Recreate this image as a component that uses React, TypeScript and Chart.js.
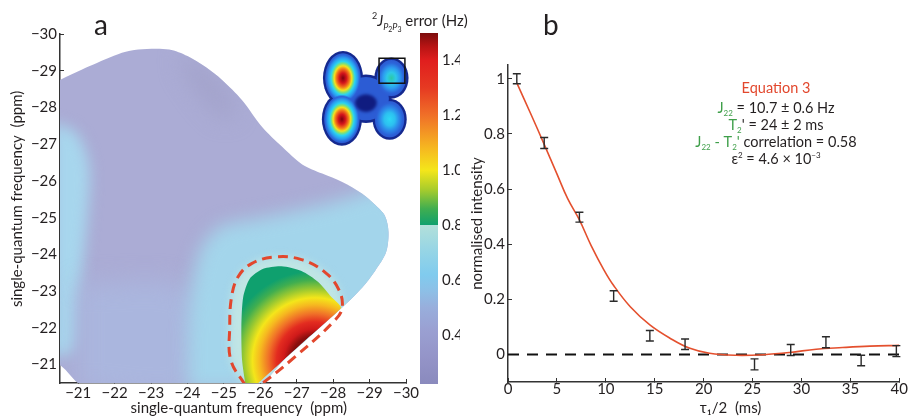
import React, { useEffect, useRef } from 'react';
import { Chart, registerables } from 'chart.js';

const FONT = "Lato, 'Open Sans', 'DejaVu Sans', sans-serif";
const INK = '#231f20';
const GREEN = '#3f9f4a';
const RED = '#e2472d';

// ===================== Panel a : axes =====================
const aXMin = -30;
const aXMax = -20.5;
const aYMin = -30;
const aYMax = -20.5;
const aXTicks = [-21, -22, -23, -24, -25, -26, -27, -28, -29, -30];
const aYTicks = [-21, -22, -23, -24, -25, -26, -27, -28, -29, -30];

// ===================== colour bar =====================
const cbMin = 0.222;
const cbMax = 1.5;
const cbTicks = [0.4, 0.6, 0.8, 1.0, 1.2, 1.4];
const cmapValues = [0.222, 0.32, 0.42, 0.5, 0.56, 0.62, 0.7, 0.7999, 0.8, 0.86, 0.93, 1.0, 1.08, 1.2, 1.3, 1.4, 1.45, 1.5];
const cmapColors = ['#8a8abd', '#9494c8', '#9aa0d2', '#98aedc', '#8dbfe6', '#80cbee', '#94d4e6', '#b2e0da', '#0fa06e', '#40ae50', '#a8cc2c', '#f4e61a', '#f6b820', '#f07028', '#e63a22', '#e01e1e', '#b81414', '#7c0c0c'];

// ===================== Panel a : error map regions (ppm, ppm) =====================
const blobX = [-20.4, -20.5, -21.3, -22.2, -22.65, -23.5, -24.0, -24.5, -24.95, -25.5, -26.05, -26.6, -27.15, -27.7, -28.25, -28.8, -29.15, -29.42, -29.52, -29.45, -29.15, -28.8, -28.35, -27.5, -26.7, -25.83, -21.2, -20.55, -20.4];
const blobY = [-28.7, -28.75, -29.12, -29.49, -29.58, -29.58, -29.4, -29.1, -28.75, -28.2, -27.47, -26.93, -26.45, -26.2, -25.97, -25.65, -25.35, -25.05, -24.6, -24.05, -23.55, -23.1, -22.65, -21.89, -21.18, -20.4, -20.4, -20.95, -21.0];
const blobColor = '#abacd5';

const ridgeX = [-23.8, -24.4, -25.0, -25.3, -25.0, -24.4, -23.9];
const ridgeY = [-29.45, -29.15, -28.5, -27.9, -27.7, -28.3, -29.0];
const ridgeColor = '#a2a2ca';

const leftX = [-20.3, -20.95, -21.3, -21.25, -21.05, -20.9, -20.3];
const leftY = [-27.6, -27.3, -26.4, -25.0, -23.0, -21.4, -21.2];
const leftColor = '#a7d6ed';

const lowerLeftX = [-21.0, -24.1, -24.1, -21.0];
const lowerLeftY = [-23.2, -23.0, -20.3, -20.3];
const lowerLeftColor = '#aab6de';

const rightX = [-24.0, -24.05, -24.35, -24.9, -25.8, -26.8, -27.7, -28.6, -29.4, -29.9, -29.9, -28.5, -25.9];
const rightY = [-20.3, -22.6, -24.1, -24.75, -24.95, -25.15, -25.35, -25.6, -25.8, -25.0, -22.9, -22.0, -20.3];
const rightColor = '#a3d5eb';

const haloColor = '#c0e5e4';

const hotX = [-25.6, -25.5, -25.48, -25.53, -25.71, -26.08, -26.58, -27.13, -27.59, -27.95, -28.21, -27.3, -26.4, -25.83];
const hotY = [-20.4, -21.12, -22.03, -22.84, -23.34, -23.61, -23.68, -23.55, -23.25, -22.84, -22.53, -21.72, -20.91, -20.4];
const hotCentre = [-27.5, -21.12];
const hotRadius = 2.45;
const hotT = [0, 0.27, 0.35, 0.43, 0.52, 0.62, 0.7, 0.8, 0.9, 1];
const hotV = [1.5, 1.49, 1.42, 1.35, 1.2, 1.08, 1.0, 0.92, 0.86, 0.8];

const contourX = [-25.58, -25.19, -25.16, -25.21, -25.39, -25.76, -26.4, -27.13, -27.77, -28.14, -28.25, -28.05, -26.95, -26.0, -25.8, -25.58];
const contourY = [-20.45, -21.12, -22.03, -22.84, -23.39, -23.75, -23.93, -23.86, -23.52, -23.07, -22.57, -22.21, -21.21, -20.45, -20.35, -20.45];

// inset (spectrum thumbnail), placed in ppm coordinates of panel a
const insetX = [-28.27, -28.24, -29.6, -29.55];
const insetY = [-28.8, -27.68, -28.8, -27.68];
const insetRX = [0.55, 0.55, 0.47, 0.47];
const insetRY = [0.74, 0.72, 0.56, 0.56];
const insetHub = [-28.9, -28.24, 0.7, 0.66];
const insetCore = [-28.9, -28.12, 0.3, 0.24];
const insetBox = [-29.26, -29.97, -29.34, -28.66];

// ===================== Panel b =====================
const bXTicks = [0, 5, 10, 15, 20, 25, 30, 35, 40];
const bYTicks = [0, 0.2, 0.4, 0.6, 0.8, 1];
const tau = [0.9, 3.7, 7.3, 10.8, 14.5, 18.1, 25.2, 28.9, 32.5, 36.1, 39.7];
const intensity = [1.0, 0.767, 0.498, 0.212, 0.068, 0.037, -0.036, 0.016, 0.044, -0.022, 0.012];
const intensityErr = [0.018, 0.02, 0.018, 0.019, 0.019, 0.019, 0.02, 0.02, 0.02, 0.019, 0.02];
const fitTau = [0.9, 2.3, 3.7, 5.0, 6.1, 7.3, 8.5, 9.8, 10.8, 12.5, 14.5, 16.6, 18.6, 20.6, 23.3, 26.1, 28.8, 31.5, 34.2, 37.0, 40.0];
const fitIntensity = [0.985, 0.875, 0.762, 0.655, 0.565, 0.488, 0.395, 0.307, 0.25, 0.173, 0.107, 0.058, 0.022, 0.004, -0.003, -0.001, 0.007, 0.019, 0.025, 0.03, 0.033];
const zeroX = [0, 40];
const zeroY = [0, 0];

// ===================== helpers =====================
const pts = (xs: number[], ys: number[]) => xs.map((x, i) => ({ x, y: ys[i] }));
const minus = (v: number) => (v < 0 ? '\u2212' + Math.abs(v) : String(v));

function hexToRgb(h: string) {
  const n = parseInt(h.slice(1), 16);
  return [(n >> 16) & 255, (n >> 8) & 255, n & 255];
}
function colorFor(v: number) {
  if (v <= cmapValues[0]) return cmapColors[0];
  for (let i = 1; i < cmapValues.length; i++) {
    if (v <= cmapValues[i]) {
      const t = (v - cmapValues[i - 1]) / (cmapValues[i] - cmapValues[i - 1]);
      const a = hexToRgb(cmapColors[i - 1]);
      const b = hexToRgb(cmapColors[i]);
      const c = a.map((av, k) => Math.round(av + (b[k] - av) * t));
      return `rgb(${c[0]},${c[1]},${c[2]})`;
    }
  }
  return cmapColors[cmapColors.length - 1];
}

// global plugin (registered first so it runs before the filler): clip + soft blur per region
const softFillPlugin: any = {
  id: 'softFill',
  beforeDatasetDraw(chart: any, args: any) {
    const ds = chart.data.datasets[args.index];
    if (ds.clipTo === undefined) return;
    const ctx = chart.ctx;
    ctx.save();
    const line = chart.getDatasetMeta(ds.clipTo).dataset;
    if (line) {
      ctx.beginPath();
      line.path(ctx);
      ctx.closePath();
      ctx.clip();
    }
    if (ds.softBlur) ctx.filter = `blur(${ds.softBlur}px)`;
  },
  afterDatasetDraw(chart: any, args: any) {
    const ds = chart.data.datasets[args.index];
    if (ds.clipTo === undefined) return;
    chart.ctx.restore();
  },
};
Chart.register(softFillPlugin);
Chart.register(...registerables);

type Run = { t: string; c: string; s: number; dy?: number; i?: boolean };
function drawRuns(ctx: CanvasRenderingContext2D, runs: Run[], x: number, y: number, align: 'center' | 'left') {
  const f = (r: Run) => `${r.i ? 'italic ' : ''}${r.s}px ${FONT}`;
  let w = 0;
  for (const r of runs) {
    ctx.font = f(r);
    w += ctx.measureText(r.t).width;
  }
  let cx = align === 'center' ? x - w / 2 : x;
  ctx.textAlign = 'left';
  ctx.textBaseline = 'alphabetic';
  for (const r of runs) {
    ctx.font = f(r);
    ctx.fillStyle = r.c;
    ctx.fillText(r.t, cx, y + (r.dy || 0));
    cx += ctx.measureText(r.t).width;
  }
}

// datasets are drawn from the highest `order` to the lowest, so order sets the stacking
const region = (xs: number[], ys: number[], color: any, order: number, extra: any = {}) => ({
  data: pts(xs, ys),
  order,
  borderWidth: 0,
  borderColor: 'rgba(0,0,0,0)',
  pointRadius: 0,
  fill: 'shape',
  backgroundColor: color,
  tension: 0.3,
  ...extra,
});

const hotGradient = (c: any) => {
  const chart = c.chart;
  if (!chart.chartArea) return cmapColors[8];
  const xs = chart.scales.x;
  const ys = chart.scales.y;
  const cx = xs.getPixelForValue(hotCentre[0]);
  const cy = ys.getPixelForValue(hotCentre[1]);
  const r = Math.abs(xs.getPixelForValue(hotCentre[0] - hotRadius) - cx);
  const g = chart.ctx.createRadialGradient(cx, cy, 0, cx, cy, r);
  hotT.forEach((t, i) => g.addColorStop(t, colorFor(hotV[i])));
  return g;
};

const baseOpts: any = {
  responsive: false,
  animation: false,
  devicePixelRatio: 1,
  events: [],
  plugins: { legend: { display: false }, tooltip: { enabled: false } },
};

const tickFont = { size: 15, family: FONT };
const titleFont = { size: 15, family: FONT };
const axisGrid = { drawOnChartArea: false, drawTicks: true, tickLength: -4, color: '#333', lineWidth: 1 };
const axisBorder = { display: true, color: '#333', width: 1.5 };

// ---------- inset + label plugin for panel a ----------
const hotStops: [number, string][] = [[0, '#7d0010'], [0.2, '#d4161c'], [0.36, '#f2761a'], [0.48, '#f4e21c'], [0.57, '#7ee07a'], [0.66, '#2ad4f0'], [0.8, '#2a9cf0'], [0.92, '#2c62d8'], [1, 'rgba(44,92,212,0)']];
const warmStops: [number, string][] = [[0, '#2cc8a6'], [0.3, '#2ec8e8'], [0.55, '#2c9cf0'], [0.8, '#2c66da'], [1, 'rgba(44,92,212,0)']];
const coolStops: [number, string][] = [[0, '#2ed8f4'], [0.35, '#2cc0f0'], [0.6, '#2c8cea'], [0.85, '#2c62d8'], [1, 'rgba(44,92,212,0)']];
const lobeStops = [hotStops, hotStops, warmStops, coolStops];

const panelAPlugin: any = {
  id: 'panelA',
  afterDatasetsDraw(chart: any) {
    const ctx: CanvasRenderingContext2D = chart.ctx;
    const xs = chart.scales.x;
    const ys = chart.scales.y;
    const px = (v: number) => xs.getPixelForValue(v);
    const py = (v: number) => ys.getPixelForValue(v);
    const sx = Math.abs(px(-21) - px(-20));
    const sy = Math.abs(py(-21) - py(-20));
    ctx.save();
    const ell = (x: number, y: number, rx: number, ry: number, col: string) => {
      ctx.fillStyle = col;
      ctx.beginPath();
      ctx.ellipse(px(x), py(y), Math.max(rx, 0.01) * sx, Math.max(ry, 0.01) * sy, 0, 0, Math.PI * 2);
      ctx.fill();
    };
    for (let i = 0; i < insetX.length; i++) ell(insetX[i], insetY[i], insetRX[i], insetRY[i], '#15298f');
    ell(insetHub[0], insetHub[1], insetHub[2], insetHub[3], '#15298f');
    for (let i = 0; i < insetX.length; i++) ell(insetX[i], insetY[i], insetRX[i] - 0.07, insetRY[i] - 0.07, '#2c5cd4');
    ell(insetHub[0], insetHub[1], insetHub[2] - 0.07, insetHub[3] - 0.07, '#2c5cd4');
    for (let i = 0; i < insetX.length; i++) {
      const rx = (insetRX[i] - 0.05) * sx;
      const ry = (insetRY[i] - 0.05) * sy;
      ctx.save();
      ctx.translate(px(insetX[i]), py(insetY[i]));
      ctx.scale(1, ry / rx);
      const g = ctx.createRadialGradient(0, 0, 0, 0, 0, rx);
      lobeStops[i].forEach(([t, c]) => g.addColorStop(t, c));
      ctx.fillStyle = g;
      ctx.beginPath();
      ctx.arc(0, 0, rx, 0, Math.PI * 2);
      ctx.fill();
      ctx.restore();
    }
    ctx.filter = 'blur(1.5px)';
    ell(insetCore[0], insetCore[1], insetCore[2], insetCore[3], '#101c80');
    ctx.filter = 'none';
    ctx.strokeStyle = '#111';
    ctx.lineWidth = 1.5;
    ctx.strokeRect(px(insetBox[0]), py(insetBox[2]), px(insetBox[1]) - px(insetBox[0]), py(insetBox[3]) - py(insetBox[2]));
    ctx.restore();
  },
  afterDraw(chart: any) {
    const ctx: CanvasRenderingContext2D = chart.ctx;
    ctx.save();
    ctx.fillStyle = INK;
    ctx.font = `28px ${FONT}`;
    ctx.textAlign = 'left';
    ctx.textBaseline = 'alphabetic';
    ctx.fillText('a', 94, 35);
    ctx.restore();
  },
};

// ---------- colour bar title ----------
const colorbarPlugin: any = {
  id: 'cbTitle',
  afterDraw(chart: any) {
    const ctx: CanvasRenderingContext2D = chart.ctx;
    ctx.save();
    drawRuns(ctx, [
      { t: '2', c: INK, s: 9, dy: -7 },
      { t: 'J', c: INK, s: 15, i: true },
      { t: 'P', c: INK, s: 9, dy: 4, i: true },
      { t: '2', c: INK, s: 7, dy: 6 },
      { t: 'P', c: INK, s: 9, dy: 4, i: true },
      { t: '3', c: INK, s: 7, dy: 6 },
      { t: ' error (Hz)', c: INK, s: 15 },
    ], 32, 26, 'left');
    ctx.restore();
  },
};

// ---------- panel b: error bars + labels ----------
const panelBPlugin: any = {
  id: 'panelB',
  afterDatasetsDraw(chart: any) {
    const ctx: CanvasRenderingContext2D = chart.ctx;
    const xs = chart.scales.x;
    const ys = chart.scales.y;
    chart.data.datasets.forEach((ds: any) => {
      if (!ds.errors) return;
      ctx.save();
      ctx.strokeStyle = '#2a2a2a';
      ctx.lineWidth = 1.4;
      ds.data.forEach((p: any, i: number) => {
        const x = xs.getPixelForValue(p.x);
        const y1 = ys.getPixelForValue(p.y - ds.errors[i]);
        const y2 = ys.getPixelForValue(p.y + ds.errors[i]);
        ctx.beginPath();
        ctx.moveTo(x, y1);
        ctx.lineTo(x, y2);
        ctx.moveTo(x - 4, y1);
        ctx.lineTo(x + 4, y1);
        ctx.moveTo(x - 4, y2);
        ctx.lineTo(x + 4, y2);
        ctx.stroke();
      });
      ctx.restore();
    });
  },
  afterDraw(chart: any) {
    const ctx: CanvasRenderingContext2D = chart.ctx;
    ctx.save();
    ctx.fillStyle = INK;
    ctx.font = `28px ${FONT}`;
    ctx.textAlign = 'left';
    ctx.textBaseline = 'alphabetic';
    ctx.fillText('b', 83, 35);
    const cx = 316;
    drawRuns(ctx, [{ t: 'Equation 3', c: RED, s: 14.5 }], cx, 93, 'center');
    drawRuns(ctx, [
      { t: 'J', c: GREEN, s: 14.5 }, { t: '22', c: GREEN, s: 8, dy: 3 }, { t: ' = 10.7 \u00b1 0.6 Hz', c: INK, s: 14.5 },
    ], cx, 113, 'center');
    drawRuns(ctx, [
      { t: 'T', c: GREEN, s: 14.5 }, { t: '2', c: GREEN, s: 8, dy: 3 }, { t: "' = 24 \u00b1 2 ms", c: INK, s: 14.5 },
    ], cx, 130, 'center');
    drawRuns(ctx, [
      { t: 'J', c: GREEN, s: 14.5 }, { t: '22', c: GREEN, s: 8, dy: 3 }, { t: ' - ', c: GREEN, s: 14.5 },
      { t: 'T', c: GREEN, s: 14.5 }, { t: '2', c: GREEN, s: 8, dy: 3 }, { t: "'", c: GREEN, s: 14.5 },
      { t: ' correlation = 0.58', c: INK, s: 14.5 },
    ], cx, 147, 'center');
    drawRuns(ctx, [
      { t: '\u03b5', c: INK, s: 14.5 }, { t: '2', c: INK, s: 8, dy: -6 }, { t: ' = 4.6 \u00d7 10', c: INK, s: 14.5 },
      { t: '\u22123', c: INK, s: 8, dy: -6 },
    ], cx, 164, 'center');
    ctx.restore();
  },
};

export default function App() {
  const aRef = useRef<HTMLCanvasElement>(null);
  const cRef = useRef<HTMLCanvasElement>(null);
  const bRef = useRef<HTMLCanvasElement>(null);

  useEffect(() => {
    Chart.defaults.font.family = FONT;

    const chartA = new Chart(aRef.current as HTMLCanvasElement, {
      type: 'line',
      data: {
        datasets: [
          region(blobX, blobY, blobColor, 10),
          region(ridgeX, ridgeY, ridgeColor, 9, { softBlur: 11, clipTo: 0 }),
          region(leftX, leftY, leftColor, 8, { softBlur: 7, clipTo: 0 }),
          region(lowerLeftX, lowerLeftY, lowerLeftColor, 7, { softBlur: 12, clipTo: 0 }),
          region(rightX, rightY, rightColor, 6, { softBlur: 9, clipTo: 0 }),
          region(contourX, contourY, haloColor, 5, { softBlur: 4, clipTo: 0 }),
          region(hotX, hotY, hotGradient, 4, { softBlur: 0, clipTo: 0, tension: 0.25 }),
          {
            data: pts(contourX, contourY),
            order: 1,
            borderColor: RED,
            borderWidth: 3,
            borderDash: [10, 6],
            pointRadius: 0,
            fill: false,
            tension: 0.4,
          },
        ] as any,
      },
      options: {
        ...baseOpts,
        layout: { padding: { left: 0, right: 54, top: 34, bottom: 0 } },
        scales: {
          x: {
            type: 'linear', min: aXMin, max: aXMax, reverse: true, z: 1,
            afterBuildTicks: (s: any) => { s.ticks = aXTicks.map((v) => ({ value: v })); },
            afterFit: (s: any) => { s.height = 33; },
            ticks: { autoSkip: false, maxRotation: 0, padding: 5, color: INK, font: tickFont, callback: (v: any) => minus(Number(v)) },
            grid: axisGrid, border: axisBorder,
            title: { display: true, text: '   single-quantum frequency  (ppm)', color: INK, font: titleFont, padding: { top: 0, bottom: -1 } },
          },
          y: {
            type: 'linear', min: aYMin, max: aYMax, reverse: true, z: 1,
            afterBuildTicks: (s: any) => { s.ticks = aYTicks.map((v) => ({ value: v })); },
            afterFit: (s: any) => { s.width = 60; },
            ticks: { autoSkip: false, padding: 7, color: INK, font: tickFont, callback: (v: any) => minus(Number(v)) },
            grid: axisGrid, border: axisBorder,
            title: { display: true, text: '     single-quantum frequency  (ppm)', color: INK, font: titleFont, padding: { top: 8, bottom: 0 } },
          },
        },
      } as any,
      plugins: [panelAPlugin],
    });

    const chartB = new Chart(bRef.current as HTMLCanvasElement, {
      type: 'line',
      data: {
        datasets: [
          { data: pts(zeroX, zeroY), order: 3, borderColor: '#111', borderWidth: 2, borderDash: [11, 8], pointRadius: 0, fill: false },
          { data: pts(fitTau, fitIntensity), order: 2, borderColor: '#e4502e', borderWidth: 1.6, pointRadius: 0, fill: false, tension: 0.4 },
          { data: pts(tau, intensity), order: 1, errors: intensityErr, showLine: false, pointRadius: 0, fill: false } as any,
        ],
      },
      options: {
        ...baseOpts,
        layout: { padding: { left: 0, right: 10, top: 65, bottom: 0 } },
        scales: {
          x: {
            type: 'linear', min: 0, max: 40, z: 1,
            afterBuildTicks: (s: any) => { s.ticks = bXTicks.map((v) => ({ value: v })); },
            afterFit: (s: any) => { s.height = 34; },
            ticks: { autoSkip: false, maxRotation: 0, padding: 2, color: INK, font: tickFont, callback: (v: any) => String(v) },
            grid: axisGrid, border: axisBorder,
            title: { display: true, text: '              \u03c4\u2081/2  (ms)', color: INK, font: titleFont, padding: { top: 0, bottom: -1 } },
          },
          y: {
            type: 'linear', min: -0.1, max: 1.05, z: 1,
            afterBuildTicks: (s: any) => { s.ticks = bYTicks.map((v) => ({ value: v })); },
            afterFit: (s: any) => { s.width = 48; },
            ticks: { autoSkip: false, padding: 7, color: INK, font: tickFont, callback: (v: any) => String(v) },
            grid: axisGrid, border: axisBorder,
            title: { display: true, text: 'normalised intensity', color: INK, font: titleFont, padding: { top: 8, bottom: 0 } },
          },
        },
      } as any,
      plugins: [panelBPlugin],
    });

    const chartC = new Chart(cRef.current as HTMLCanvasElement, {
      type: 'bar',
      data: {
        labels: [''],
        datasets: [{
          data: [[cbMin, cbMax]] as any,
          barPercentage: 1,
          categoryPercentage: 1,
          borderWidth: 0,
          backgroundColor: (c: any) => {
            const ch = c.chart;
            if (!ch.chartArea) return cmapColors[0];
            const ys = ch.scales.y;
            const g = ch.ctx.createLinearGradient(0, ys.getPixelForValue(cbMin), 0, ys.getPixelForValue(cbMax));
            cmapValues.forEach((v, i) => g.addColorStop((v - cbMin) / (cbMax - cbMin), cmapColors[i]));
            return g;
          },
        }],
      },
      options: {
        ...baseOpts,
        layout: { padding: { left: 80, right: 58, top: 33, bottom: 32 } },
        scales: {
          x: { display: false },
          y: {
            type: 'linear', position: 'right', min: cbMin, max: cbMax, z: 1,
            afterBuildTicks: (s: any) => { s.ticks = cbTicks.map((v) => ({ value: v })); },
            afterFit: (s: any) => { s.width = 22; },
            ticks: { autoSkip: false, padding: 7, color: INK, font: tickFont, callback: (v: any) => Number(v).toFixed(1) },
            grid: { drawOnChartArea: false, drawTicks: true, tickLength: -3, color: '#555', lineWidth: 1 },
            border: { display: false },
          },
        },
      } as any,
      plugins: [colorbarPlugin],
    });

    return () => {
      chartA.destroy();
      chartB.destroy();
      chartC.destroy();
    };
  }, []);

  return (
    <div style={{ position: 'fixed', left: 0, top: 0, width: 910, height: 416, background: '#fff', overflow: 'hidden' }}>
      <canvas ref={aRef} width={460} height={416} style={{ position: 'absolute', left: 0, top: 0 }} />
      <canvas ref={bRef} width={450} height={416} style={{ position: 'absolute', left: 460, top: 0 }} />
      <canvas ref={cRef} width={178} height={416} style={{ position: 'absolute', left: 340, top: 0 }} />
    </div>
  );
}
